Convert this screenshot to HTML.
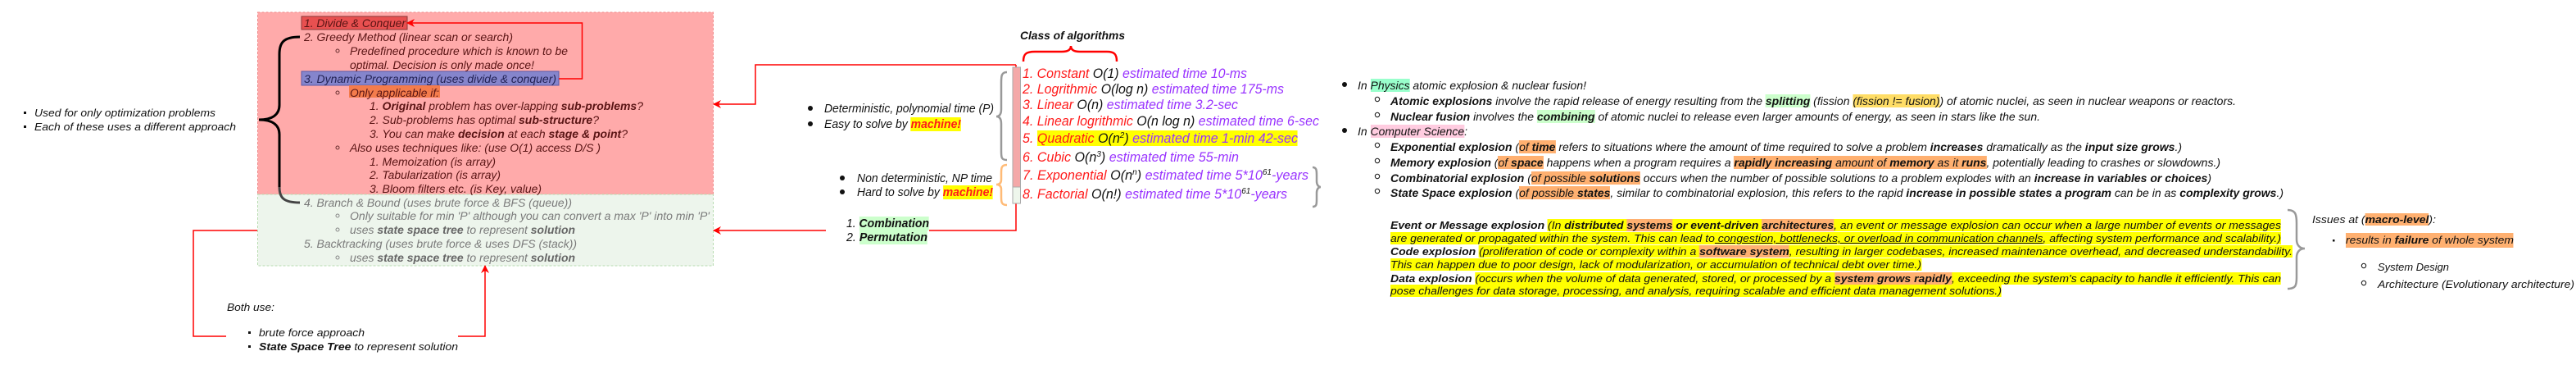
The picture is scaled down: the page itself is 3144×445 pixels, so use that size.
<!DOCTYPE html>
<html><head><meta charset="utf-8">
<style>
html,body{margin:0;padding:0;background:#fff;}
#c{position:relative;width:3144px;height:445px;overflow:hidden;font-family:"Liberation Sans",Arial,sans-serif;font-style:italic;color:#111;}
svg{position:absolute;left:0;top:0;}
.t{position:absolute;white-space:nowrap;font-size:14px;line-height:18px;height:18px;}
.t>span{display:inline-block;transform-origin:0 0;}
.pk{color:#5a1414;}
.gr{color:#7a7a7a;}
.gr b{color:#666;}
.L{font-size:17px;line-height:20px;height:20px;}
.r{color:#ff1a1a;}
.p{color:#9933ff;}
.k{color:#111;}
.y{background:#ffff00;}
.o{background:#ffb070;}
.g{background:#ccffcc;}
.aq{background:#99ffcc;}
.pi{background:#ffcce0;}
.f{background:#ffdd66;}
.mach{background:#ffff00;color:#ff1a1a;font-weight:bold;}
sup{font-size:0.62em;line-height:0;vertical-align:0.55em;}
u{text-decoration:underline;}
</style></head><body>
<div id="c">
<svg width="3144" height="445" viewBox="0 0 3144 445">
<defs>
<marker id="ar" markerWidth="10" markerHeight="10" refX="9" refY="5" orient="auto" markerUnits="userSpaceOnUse"><path d="M0,0 L10,5 L0,10 L3,5 Z" fill="#ff0000"/></marker>
</defs>
<rect x="314.5" y="15" width="556" height="222" fill="#ffaaaa" stroke="#f08a8a" stroke-dasharray="3,2"/>
<rect x="314.5" y="237" width="556" height="87" fill="#edf5ec" stroke="#b8dcb0" stroke-dasharray="3,2"/>
<rect x="368" y="20" width="129" height="16" fill="#e85050" stroke="#8b3a3a"/>
<rect x="368" y="87" width="314" height="17" fill="#8585cc" stroke="#5a5aaa"/>
<rect x="426" y="104" width="111" height="15" fill="#f47c4c"/>
<path d="M366,45 C346,45 341,52 341,66 L341,128 C341,140 332,146 316,146 C332,146 341,152 341,164 L341,228" fill="none" stroke="#000" stroke-width="3"/>
<path d="M341,228 C341,241 346,247 366,247" fill="none" stroke="#444" stroke-width="3"/>
<g fill="none" stroke="#6a3030" stroke-width="1"><circle cx="412" cy="62" r="2"/><circle cx="412" cy="113" r="2"/><circle cx="412" cy="180" r="2"/></g>
<g fill="none" stroke="#888" stroke-width="1"><circle cx="412" cy="263" r="2"/><circle cx="412" cy="280" r="2"/><circle cx="412" cy="314" r="2"/></g>
<path d="M682,96 H710.5 V28 H497" fill="none" stroke="#ff0000" stroke-width="1.5" marker-end="url(#ar)"/>
<path d="M1240,79 H922 V127 H871" fill="none" stroke="#ff0000" stroke-width="1.5" marker-end="url(#ar)"/>
<path d="M1240,79 V281 H1134" fill="none" stroke="#ff0000" stroke-width="1.5"/>
<path d="M1008,281 H871" fill="none" stroke="#ff0000" stroke-width="1.5" marker-end="url(#ar)"/>
<path d="M276,410 H236 V281 H314" fill="none" stroke="#ff0000" stroke-width="1.5"/>
<path d="M559,410 H592 V324" fill="none" stroke="#ff0000" stroke-width="1.5" marker-end="url(#ar)"/>
<rect x="29" y="136" width="3" height="3" fill="#111"/><rect x="29" y="153" width="3" height="3" fill="#111"/>
<rect x="303" y="404" width="3" height="3" fill="#111"/><rect x="303" y="421" width="3" height="3" fill="#111"/>
<rect x="1236" y="82" width="9.5" height="146" fill="#f4a8a8" stroke="#aaa"/>
<rect x="1236" y="228" width="9.5" height="20" fill="#eef6ec" stroke="#aaa"/>
<path d="M1249,75 C1249,66 1252,63 1263,63 L1296,63 C1303,63 1307,61 1307,56 C1307,61 1311,63 1318,63 L1351,63 C1360,63 1363,66 1363,75" fill="none" stroke="#ff0000" stroke-width="2.5"/>
<path d="M1229,88 C1222,88 1222,93 1222,101 L1222,133 C1222,139 1220,142 1216,142 C1220,142 1222,145 1222,151 L1222,184 C1222,192 1222,195 1229,195" fill="none" stroke="#999" stroke-width="2.5"/>
<path d="M1229,201 C1222,201 1222,205 1222,211 L1222,219 C1222,223 1220,225 1216,225 C1220,225 1222,227 1222,231 L1222,240 C1222,246 1222,250 1229,250" fill="none" stroke="#ffbb77" stroke-width="2.5"/>
<path d="M1602,204 C1607,204 1607,208 1607,214 L1607,221 C1607,225 1609,228 1612,228 C1609,228 1607,231 1607,235 L1607,243 C1607,249 1607,252 1602,252" fill="none" stroke="#999" stroke-width="2.5"/>
<path d="M2792,256 C2802,256 2803,262 2803,272 L2803,292 C2803,299 2807,303 2813,303 C2807,303 2803,307 2803,314 L2803,338 C2803,348 2802,352 2792,352" fill="none" stroke="#999" stroke-width="2.5"/>
<circle cx="989" cy="132" r="3" fill="#111"/><circle cx="989" cy="151" r="3" fill="#111"/>
<circle cx="1028" cy="217" r="3" fill="#111"/><circle cx="1028" cy="234" r="3" fill="#111"/>
<circle cx="1641" cy="103" r="3" fill="#111"/><circle cx="1641" cy="159" r="3" fill="#111"/>
<g fill="none" stroke="#111" stroke-width="1"><circle cx="1681" cy="121" r="2.7"/><circle cx="1681" cy="140" r="2.7"/><circle cx="1681" cy="177" r="2.7"/><circle cx="1681" cy="196" r="2.7"/><circle cx="1681" cy="215" r="2.7"/><circle cx="1681" cy="233" r="2.7"/>
<circle cx="2885" cy="324" r="2.7"/><circle cx="2885" cy="345" r="2.7"/></g>
<rect x="2847" y="292" width="2.5" height="2.5" fill="#111"/>
</svg>

<!-- left -->
<div class="t" style="left:42px;top:129px;width:221px;font-size:13px"><span>Used for only optimization problems</span></div>
<div class="t" style="left:42px;top:146px;width:246px;font-size:13px"><span>Each of these uses a different approach</span></div>

<!-- pink box -->
<div class="t pk" style="left:370.5px;top:19px;width:124px"><span>1. Divide &amp; Conquer</span></div>
<div class="t pk" style="left:370.5px;top:36px;width:255px"><span>2. Greedy Method (linear scan or search)</span></div>
<div class="t pk" style="left:426.5px;top:53px;width:266px"><span>Predefined procedure which is known to be</span></div>
<div class="t pk" style="left:426.5px;top:70px;width:225px"><span>optimal. Decision is only made once!</span></div>
<div class="t" style="left:370.5px;top:87px;width:308px;color:#222255"><span>3. Dynamic Programming (uses divide &amp; conquer)</span></div>
<div class="t pk" style="left:426.5px;top:104px;width:109px"><span>Only applicable if:</span></div>
<div class="t pk" style="left:451px;top:120px;width:334px"><span>1. <b>Original</b> problem has over-lapping <b>sub-problems</b>?</span></div>
<div class="t pk" style="left:451px;top:137px;width:280px"><span>2. Sub-problems has optimal <b>sub-structure</b>?</span></div>
<div class="t pk" style="left:451px;top:154px;width:315px"><span>3. You can make <b>decision</b> at each <b>stage &amp; point</b>?</span></div>
<div class="t pk" style="left:426.5px;top:171px;width:306px"><span>Also uses techniques like: (use O(1) access D/S )</span></div>
<div class="t pk" style="left:451px;top:188px;width:154px"><span>1. Memoization (is array)</span></div>
<div class="t pk" style="left:451px;top:204px;width:160px"><span>2. Tabularization (is array)</span></div>
<div class="t pk" style="left:451px;top:221px;width:210px"><span>3. Bloom filters etc. (is Key, value)</span></div>
<div class="t gr" style="left:370.5px;top:238px;width:327px"><span>4. Branch &amp; Bound (uses brute force &amp; BFS (queue))</span></div>
<div class="t gr" style="left:426.5px;top:254px;width:439px"><span>Only suitable for min 'P' although you can convert a max 'P' into min 'P'</span></div>
<div class="t gr" style="left:426.5px;top:271px;width:275px"><span>uses <b>state space tree</b> to represent <b>solution</b></span></div>
<div class="t gr" style="left:370.5px;top:288px;width:333px"><span>5. Backtracking (uses brute force &amp; uses DFS (stack))</span></div>
<div class="t gr" style="left:426.5px;top:305px;width:275px"><span>uses <b>state space tree</b> to represent <b>solution</b></span></div>

<!-- both use -->
<div class="t" style="left:277px;top:366px;width:58px;font-size:13px"><span>Both use:</span></div>
<div class="t" style="left:316px;top:397px;width:129px;font-size:13px"><span>brute force approach</span></div>
<div class="t" style="left:316px;top:414px;width:243px;font-size:13px"><span><b>State Space Tree</b> to represent solution</span></div>

<!-- middle -->
<div class="t" style="left:1245px;top:34px;width:128px"><span><b>Class of algorithms</b></span></div>
<div class="t" style="left:1006px;top:124px;width:207px;font-size:15px"><span>Deterministic, polynomial time (P)</span></div>
<div class="t" style="left:1006px;top:143px;width:167px;font-size:15px"><span>Easy to solve by <span class="mach">machine!</span></span></div>
<div class="t" style="left:1046px;top:209px;width:165px;font-size:15px"><span>Non deterministic, NP time</span></div>
<div class="t" style="left:1046px;top:226px;width:166px;font-size:15px"><span>Hard to solve by <span class="mach">machine!</span></span></div>
<div class="t" style="left:1033px;top:264px;width:101px;font-size:15px"><span>1. <b class="g">Combination</b></span></div>
<div class="t" style="left:1033px;top:281px;width:99px;font-size:15px"><span>2. <b class="g">Permutation</b></span></div>

<div class="t L" style="left:1248px;top:80px;width:274px"><span><span class="r">1. Constant </span><span class="k">O(1)</span> <span class="p">estimated time 10-ms</span></span></div>
<div class="t L" style="left:1248px;top:99px;width:319px"><span><span class="r">2. Logrithmic </span><span class="k">O(log n)</span> <span class="p">estimated time 175-ms</span></span></div>
<div class="t L" style="left:1248px;top:118px;width:263px"><span><span class="r">3. Linear </span><span class="k">O(n)</span> <span class="p">estimated time 3.2-sec</span></span></div>
<div class="t L" style="left:1248px;top:138px;width:362px"><span><span class="r">4. Linear logrithmic </span><span class="k">O(n log n)</span> <span class="p">estimated time 6-sec</span></span></div>
<div class="t L" style="left:1248px;top:159px;width:336px"><span><span class="r">5. </span><span class="y"><span class="r">Quadratic </span><span class="k">O(n<sup>2</sup>)</span> <span class="p">estimated time 1-min 42-sec</span></span></span></div>
<div class="t L" style="left:1248px;top:182px;width:264px"><span><span class="r">6. Cubic </span><span class="k">O(n<sup>3</sup>)</span> <span class="p">estimated time 55-min</span></span></div>
<div class="t L" style="left:1248px;top:204px;width:349px"><span><span class="r">7. Exponential </span><span class="k">O(n<sup>n</sup>)</span> <span class="p">estimated time 5*10<sup class="k">61</sup>-years</span></span></div>
<div class="t L" style="left:1248px;top:227px;width:323px"><span><span class="r">8. Factorial </span><span class="k">O(n!)</span> <span class="p">estimated time 5*10<sup class="k">61</sup>-years</span></span></div>

<!-- physics / CS -->
<div class="t" style="left:1657px;top:95px;width:279px"><span>In <span class="aq">Physics</span> atomic explosion &amp; nuclear fusion!</span></div>
<div class="t" style="left:1697px;top:114px;width:1032px"><span><b>Atomic explosions</b> involve the rapid release of energy resulting from the <b class="g">splitting</b> (fission <span class="f">(fission != fusion)</span>) of atomic nuclei, as seen in nuclear weapons or reactors.</span></div>
<div class="t" style="left:1697px;top:133px;width:793px"><span><b>Nuclear fusion</b> involves the <b class="g">combining</b> of atomic nuclei to release even larger amounts of energy, as seen in stars like the sun.</span></div>
<div class="t" style="left:1657px;top:151px;width:134px"><span>In <span class="pi">Computer Science</span>:</span></div>
<div class="t" style="left:1697px;top:170px;width:966px"><span><b>Exponential explosion</b> (<span class="o">of <b>time</b></span> refers to situations where the amount of time required to solve a problem <b>increases</b> dramatically as the <b>input size grows</b>.)</span></div>
<div class="t" style="left:1697px;top:189px;width:1013px"><span><b>Memory explosion</b> (<span class="o">of <b>space</b></span> happens when a program requires a <span class="o"><b>rapidly increasing</b> amount of <b>memory</b> as it <b>runs</b></span>, potentially leading to crashes or slowdowns.)</span></div>
<div class="t" style="left:1697px;top:208px;width:1002px"><span><b>Combinatorial explosion</b> (<span class="o">of possible <b>solutions</b></span> occurs when the number of possible solutions to a problem explodes with an <b>increase in variables or choices</b>)</span></div>
<div class="t" style="left:1697px;top:226px;width:1090px"><span><b>State Space explosion</b> (<span class="o">of possible <b>states</b></span>, similar to combinatorial explosion, this refers to the rapid <b>increase in possible states a program</b> can be in as <b>complexity grows</b>.)</span></div>

<!-- events -->
<div class="t" style="left:1697px;top:266px;width:1087px;font-size:13px;line-height:17px;height:17px"><span><b>Event or Message explosion</b> <span class="y">(In <b>distributed</b> <b class="o">systems</b> <b>or event-driven</b> <b class="o">architectures</b>, an event or message explosion can occur when a large number of events or messages</span></span></div>
<div class="t" style="left:1697px;top:282px;width:1087px;font-size:13px;line-height:17px;height:17px"><span><span class="y">are generated or propagated within the system. This can lead to<u> congestion, bottlenecks, or overload in communication channels</u>, affecting system performance and scalability.)</span></span></div>
<div class="t" style="left:1697px;top:298px;width:1101px;font-size:13px;line-height:17px;height:17px"><span><b>Code explosion</b> <span class="y">(proliferation of code or complexity within a <b class="o">software system</b>, resulting in larger codebases, increased maintenance overhead, and decreased understandability.</span></span></div>
<div class="t" style="left:1697px;top:314px;width:648px;font-size:13px;line-height:17px;height:17px"><span><span class="y">This can happen due to poor design, lack of modularization, or accumulation of technical debt over time.)</span></span></div>
<div class="t" style="left:1697px;top:331px;width:1087px;font-size:13px;line-height:17px;height:17px"><span><b>Data explosion</b> <span class="y">(occurs when the volume of data generated, stored, or processed by a <b class="o">system grows rapidly</b>, exceeding the system's capacity to handle it efficiently. This can</span></span></div>
<div class="t" style="left:1697px;top:346px;width:746px;font-size:13px;line-height:17px;height:17px"><span><span class="y">pose challenges for data storage, processing, and analysis, requiring scalable and efficient data management solutions.)</span></span></div>

<!-- issues -->
<div class="t" style="left:2822px;top:259px;width:151px;font-size:13px"><span>Issues at (<b class="o">macro-level</b>):</span></div>
<div class="t" style="left:2863px;top:284px;width:205px;font-size:13px"><span class="o">results in <b>failure</b> of whole system</span></div>
<div class="t" style="left:2902px;top:317px;width:87px;font-size:13px"><span>System Design</span></div>
<div class="t" style="left:2902px;top:338px;width:240px;font-size:13px"><span>Architecture (Evolutionary architecture)</span></div>
</div>
<script>
document.querySelectorAll('.t').forEach(function(e){
  var s=e.firstElementChild; var w=parseFloat(e.style.width);
  if(!s||!w) return;
  var n=s.getBoundingClientRect().width;
  if(n>0) s.style.transform='scaleX('+(w/n)+')';
});
</script>
</body></html>
